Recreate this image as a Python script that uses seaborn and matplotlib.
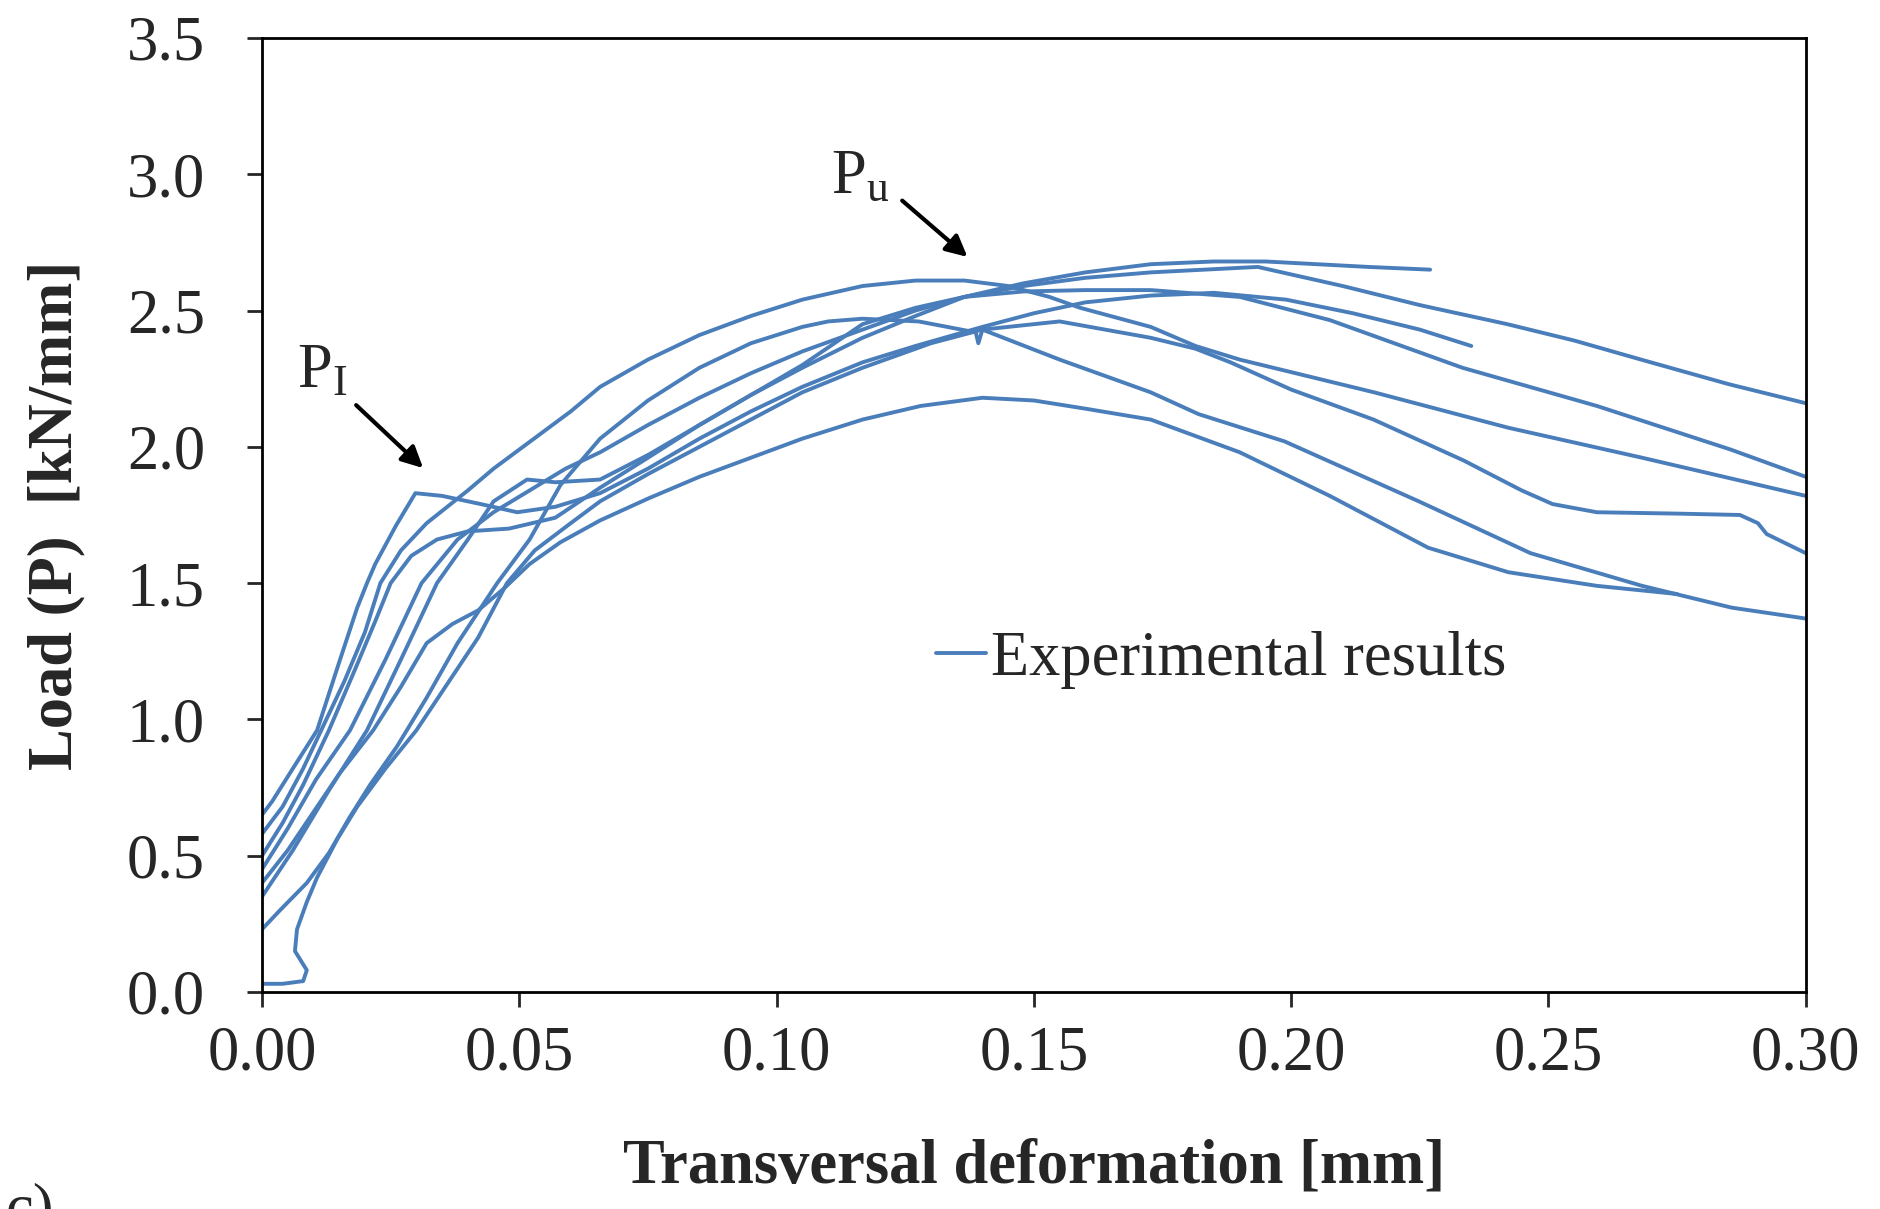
import pandas as pd
import matplotlib
matplotlib.use("Agg")
import matplotlib.pyplot as plt
import seaborn as sns

# ------------------------------
# Data (x in mm, y in kN/mm)
# ------------------------------
xa = [0, 0.005, 0.0105, 0.0171, 0.024, 0.031, 0.038, 0.045, 0.052, 0.059, 0.0657, 0.075, 0.085,
      0.095, 0.105, 0.1167, 0.127, 0.1365, 0.148, 0.16, 0.1727, 0.185, 0.195, 0.205, 0.215, 0.227]
ya = [0.45, 0.60, 0.78, 0.96, 1.22, 1.50, 1.66, 1.76, 1.84, 1.92, 1.98, 2.08, 2.18,
      2.27, 2.35, 2.43, 2.50, 2.55, 2.60, 2.64, 2.67, 2.68, 2.68, 2.67, 2.66, 2.65]

xb = [0, 0.006, 0.013, 0.0204, 0.027, 0.034, 0.040, 0.045, 0.0515, 0.057, 0.0657, 0.075, 0.085,
      0.095, 0.105, 0.1167, 0.127, 0.1365, 0.148, 0.16, 0.1727, 0.1935, 0.21, 0.225, 0.242,
      0.255, 0.268, 0.285, 0.30]
yb = [0.35, 0.52, 0.74, 0.96, 1.22, 1.50, 1.66, 1.80, 1.88, 1.87, 1.88, 1.97, 2.08,
      2.19, 2.30, 2.45, 2.51, 2.55, 2.59, 2.62, 2.64, 2.66, 2.59, 2.52, 2.45,
      2.39, 2.32, 2.23, 2.16]

xc = [0, 0.002, 0.006, 0.0107, 0.015, 0.0185, 0.0204, 0.022, 0.026, 0.0298, 0.035, 0.0425, 0.0496,
      0.057, 0.0657, 0.075, 0.085, 0.095, 0.105, 0.1167, 0.127, 0.14, 0.15, 0.16, 0.1727, 0.185,
      0.199, 0.212, 0.225, 0.235]
yc = [0.65, 0.70, 0.82, 0.96, 1.21, 1.41, 1.50, 1.57, 1.71, 1.83, 1.82, 1.79, 1.76,
      1.78, 1.83, 1.92, 2.03, 2.13, 2.22, 2.31, 2.37, 2.44, 2.49, 2.53, 2.555, 2.565,
      2.54, 2.49, 2.43, 2.37]

xd = [0, 0.004, 0.008, 0.013, 0.018, 0.022, 0.025, 0.029, 0.034, 0.040, 0.048, 0.057, 0.0657,
      0.075, 0.085, 0.095, 0.105, 0.1167, 0.127, 0.1365, 0.148, 0.16, 0.1727, 0.19, 0.2075,
      0.2333, 0.2594, 0.2854, 0.30]
yd = [0.50, 0.62, 0.76, 0.96, 1.18, 1.36, 1.50, 1.60, 1.66, 1.69, 1.70, 1.74, 1.85,
      1.96, 2.08, 2.19, 2.29, 2.40, 2.48, 2.55, 2.57, 2.575, 2.575, 2.55, 2.465,
      2.29, 2.15, 1.99, 1.89]

xe = [0, 0.004, 0.008, 0.0115, 0.016, 0.020, 0.023, 0.027, 0.032, 0.036, 0.040, 0.045, 0.050,
      0.055, 0.060, 0.0657, 0.075, 0.085, 0.095, 0.105, 0.1167, 0.127, 0.1365, 0.145, 0.153,
      0.159, 0.1727, 0.1814, 0.19, 0.2161, 0.2422, 0.2682, 0.30]
ye = [0.58, 0.68, 0.82, 0.96, 1.14, 1.32, 1.50, 1.62, 1.72, 1.78, 1.84, 1.92, 1.99,
      2.06, 2.13, 2.22, 2.32, 2.41, 2.48, 2.54, 2.59, 2.61, 2.61, 2.59, 2.55,
      2.51, 2.44, 2.37, 2.32, 2.20, 2.07, 1.96, 1.82]

xf = [0, 0.004, 0.008, 0.0087, 0.0064, 0.0068, 0.0087, 0.0107, 0.0146, 0.0185, 0.024, 0.030,
      0.036, 0.042, 0.0476, 0.053, 0.060, 0.0657, 0.075, 0.085, 0.095, 0.105, 0.1167, 0.13,
      0.14, 0.155, 0.1727, 0.1814, 0.1882, 0.20, 0.216, 0.2335, 0.2448, 0.2508, 0.2594, 0.275,
      0.2872, 0.2907, 0.2924, 0.30]
yf = [0.03, 0.03, 0.04, 0.08, 0.15, 0.23, 0.33, 0.42, 0.56, 0.68, 0.82, 0.96,
      1.13, 1.30, 1.50, 1.62, 1.72, 1.80, 1.90, 2.00, 2.10, 2.20, 2.29, 2.38,
      2.43, 2.46, 2.40, 2.36, 2.31, 2.21, 2.10, 1.95, 1.84, 1.79, 1.76, 1.755,
      1.75, 1.72, 1.68, 1.61]

xg = [0, 0.0035, 0.0087, 0.013, 0.017, 0.021, 0.0262, 0.032, 0.038, 0.0457, 0.052, 0.058, 0.0657,
      0.075, 0.085, 0.095, 0.105, 0.110, 0.1167, 0.1276, 0.1387, 0.1392, 0.140, 0.155, 0.1727,
      0.182, 0.1987, 0.2248, 0.2465, 0.2682, 0.2856, 0.30]
yg = [0.23, 0.30, 0.40, 0.51, 0.64, 0.76, 0.90, 1.08, 1.28, 1.50, 1.66, 1.86, 2.03,
      2.17, 2.29, 2.38, 2.44, 2.46, 2.47, 2.46, 2.42, 2.38, 2.43, 2.32, 2.20,
      2.12, 2.02, 1.80, 1.61, 1.49, 1.41, 1.37]

xh = [0, 0.005, 0.010, 0.015, 0.0216, 0.027, 0.032, 0.037, 0.042, 0.047, 0.052, 0.058, 0.0657,
      0.075, 0.085, 0.095, 0.105, 0.1167, 0.128, 0.14, 0.15, 0.16, 0.1727, 0.19, 0.2075,
      0.2266, 0.2422, 0.2594, 0.275]
yh = [0.40, 0.52, 0.66, 0.80, 0.96, 1.12, 1.28, 1.35, 1.40, 1.48, 1.57, 1.65, 1.73,
      1.81, 1.89, 1.96, 2.03, 2.10, 2.15, 2.18, 2.17, 2.14, 2.10, 1.98, 1.82,
      1.63, 1.54, 1.49, 1.46]

curves = [(xa, ya), (xb, yb), (xc, yc), (xd, yd), (xe, ye), (xf, yf), (xg, yg), (xh, yh)]

x_ticks = [0.00, 0.05, 0.10, 0.15, 0.20, 0.25, 0.30]
y_ticks = [0.0, 0.5, 1.0, 1.5, 2.0, 2.5, 3.0, 3.5]

# ------------------------------
# Style
# ------------------------------
sns.set_style("ticks")
plt.rcParams['font.family'] = ['Liberation Serif', 'DejaVu Serif']
plt.rcParams['mathtext.fontset'] = 'custom'
plt.rcParams['mathtext.rm'] = 'Liberation Serif'
plt.rcParams['mathtext.it'] = 'Liberation Serif'

blue = '#4a7ebb'
fs = 45

fig = plt.figure(figsize=(18.81, 12.09), dpi=100)
ax = fig.add_axes([0.1393, 0.1795, 0.8207, 0.7891])

for i, (xs, ys) in enumerate(curves):
    df = pd.DataFrame({'x': xs, 'y': ys})
    sns.lineplot(data=df, x='x', y='y', ax=ax, sort=False, estimator=None,
                 color=blue, linewidth=2.8,
                 label='Experimental results' if i == 0 else None)

ax.set_xlim(0, 0.30)
ax.set_ylim(0, 3.5)
ax.set_xticks(x_ticks)
ax.set_yticks(y_ticks)
ax.set_xticklabels([f"{v:.2f}" for v in x_ticks])
ax.set_yticklabels([f"{v:.1f}" for v in y_ticks])
ax.tick_params(axis='x', direction='out', length=11, width=2, pad=13, labelsize=fs)
ax.tick_params(axis='y', direction='out', length=11, width=2, pad=30, labelsize=fs)
for s in ax.spines.values():
    s.set_visible(True)
    s.set_linewidth(2)
    s.set_color('black')

ax.set_xlabel("Transversal deformation [mm]", fontsize=fs, fontweight='bold', labelpad=40)
ax.set_ylabel("Load (P)  [kN/mm]", fontsize=fs, fontweight='bold', labelpad=30)

# Legend
ax.legend(loc='center left', bbox_to_anchor=(0.4367, 0.3484), frameon=False,
          fontsize=fs, handlelength=0.8, handletextpad=0.08,
          borderpad=0, borderaxespad=0)

# Annotations
ax.text(0.1106, 2.93, r'P$_\mathregular{u}$', fontsize=fs, ha='left', va='baseline')
ax.annotate('', xy=(0.1375, 2.69), xytext=(0.124, 2.91),
            arrowprops=dict(arrowstyle='-|>', color='black', lw=3, mutation_scale=32))
ax.text(0.0068, 2.22, r'P$_\mathregular{I}$', fontsize=fs, ha='left', va='baseline')
ax.annotate('', xy=(0.0317, 1.915), xytext=(0.0179, 2.16),
            arrowprops=dict(arrowstyle='-|>', color='black', lw=3, mutation_scale=32))

fig.text(0.003, 0.0223, 'c)', fontsize=fs, ha='left', va='top')

fig.savefig("out.png", dpi=100)
